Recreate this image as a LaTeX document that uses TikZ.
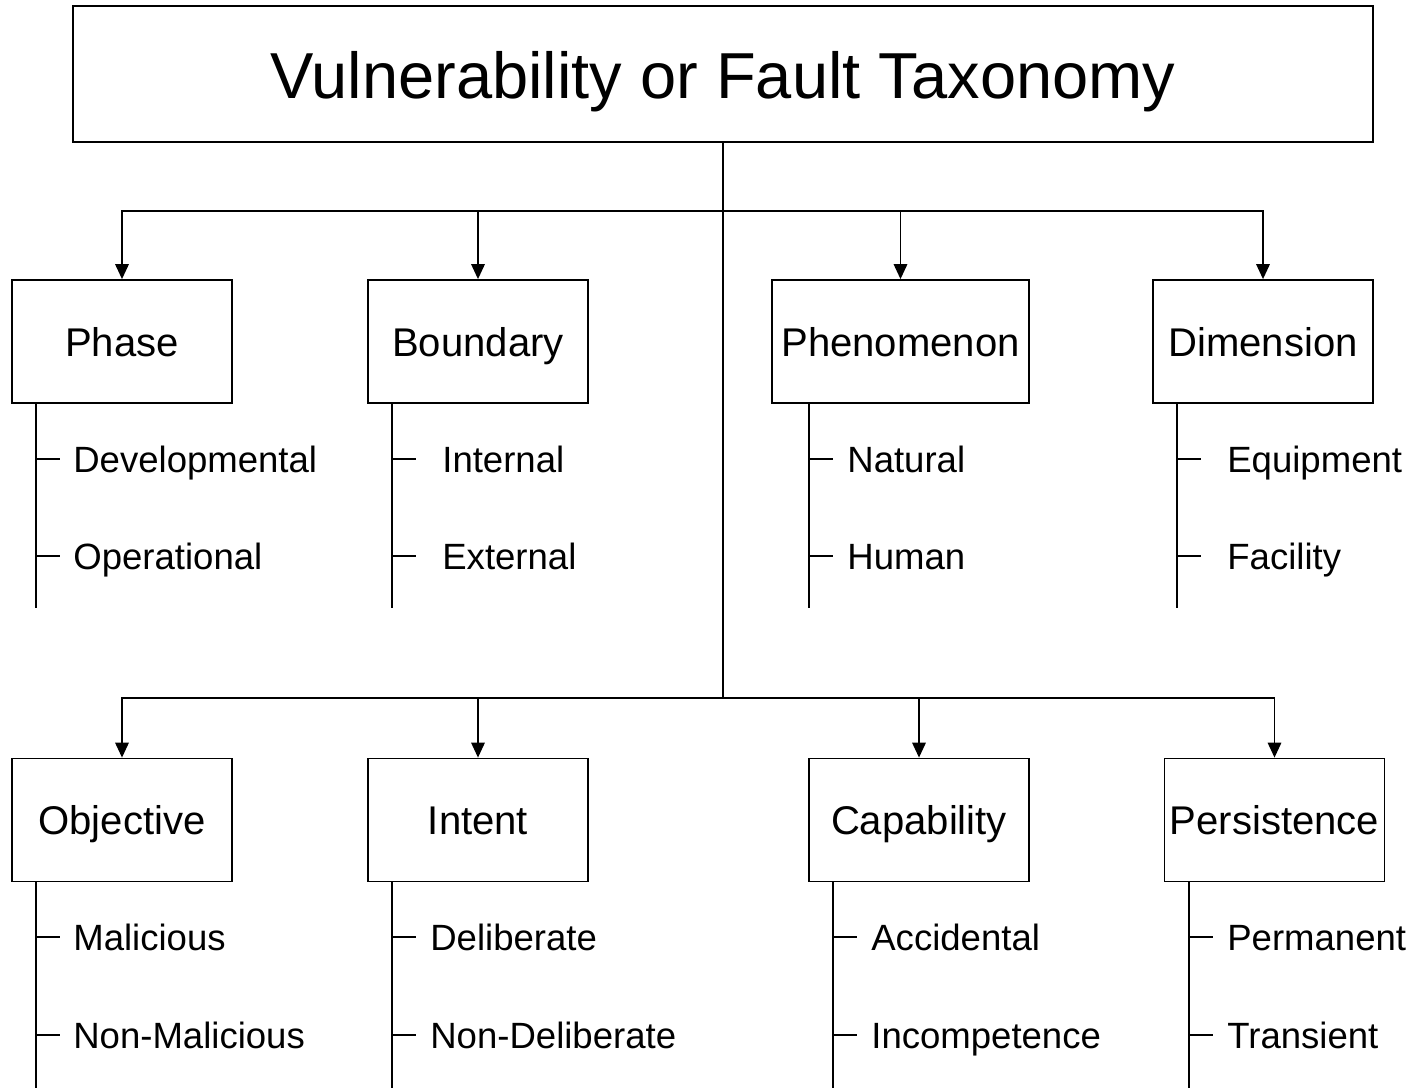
\documentclass[tikz,border=0pt]{standalone}
\usepackage{fontspec}
\setmainfont{Liberation Sans}
\usetikzlibrary{arrows.meta}

\tikzset{
  catbox/.style={draw, line width=1pt, minimum width=4.4cm, minimum height=2.46cm,
    inner sep=0pt, text height=17pt, text depth=0pt, font=\fontsize{22.8}{27}\selectfont},
  item/.style={anchor=base west, inner sep=0pt, font=\fontsize{20.8}{25}\selectfont},
  branch/.style={line width=1pt},
  feed/.style={line width=1.1pt, -{Triangle[length=8.5pt, width=7.6pt]}}
}

\begin{document}
\begin{tikzpicture}[x=0.02cm, y=-0.02cm]
  \useasboundingbox (0,0) rectangle (1412,1088);

  % Title box
  \node[draw, line width=1pt, minimum width=26cm, minimum height=2.72cm, inner sep=0pt,
        text height=27.5pt, text depth=0pt, font=\fontsize{37}{44}\selectfont]
        (title) at (723,74) {Vulnerability or Fault Taxonomy};

  % Bus junctions on the trunk
  \coordinate (topbus) at (723,211);
  \coordinate (botbus) at (723,698);
  \draw[feed, -] (title.south) -- (botbus);

  % Upper row of categories
  \node[catbox] (phase) at (122,341.5) {Phase};
  \node[catbox] (bound) at (478,341.5) {Boundary};
  \node[catbox, minimum width=5.14cm] (pheno) at (900.5,341.5) {Phenomenon};
  \node[catbox] (dimen) at (1263,341.5) {Dimension};

  % Lower row of categories
  \node[catbox] (object) at (122,820) {Objective};
  \node[catbox] (intent) at (478,820) {Intent};
  \node[catbox] (capab) at (919,820) {Capability};
  \node[catbox] (persist) at (1274.5,820) {Persistence};

  % Arrows from the buses
  \draw[feed] (topbus) -| (phase.north);
  \draw[feed] (topbus) -| (bound.north);
  \draw[feed] (topbus) -| (pheno.north);
  \draw[feed] (topbus) -| (dimen.north);
  \draw[feed] (botbus) -| (object.north);
  \draw[feed] (botbus) -| (intent.north);
  \draw[feed] (botbus) -| (capab.north);
  \draw[feed] (botbus) -| (persist.north);

  % Phase
  \coordinate (phaseend) at (36,608);
  \draw[branch] (phase.south -| phaseend) -- (phaseend);
  \draw[branch] (36,459) -- ++(24,0);
  \draw[branch] (36,556) -- ++(24,0);
  \node[item] (devel) at (73,472) {Developmental};
  \node[item] (oper) at (73,569) {Operational};

  % Boundary
  \coordinate (boundend) at (392,608);
  \draw[branch] (bound.south -| boundend) -- (boundend);
  \draw[branch] (392,459) -- ++(24,0);
  \draw[branch] (392,556) -- ++(24,0);
  \node[item] (inter) at (442,472) {Internal};
  \node[item] (exter) at (442,569) {External};

  % Phenomenon
  \coordinate (phenoend) at (809,608);
  \draw[branch] (pheno.south -| phenoend) -- (phenoend);
  \draw[branch] (809,459) -- ++(24,0);
  \draw[branch] (809,556) -- ++(24,0);
  \node[item] (natur) at (847,472) {Natural};
  \node[item] (human) at (847,569) {Human};

  % Dimension
  \coordinate (dimenend) at (1177,608);
  \draw[branch] (dimen.south -| dimenend) -- (dimenend);
  \draw[branch] (1177,459) -- ++(24,0);
  \draw[branch] (1177,556) -- ++(24,0);
  \node[item] (equip) at (1227,472) {Equipment};
  \node[item] (facil) at (1227,569) {Facility};

  % Objective
  \coordinate (objectend) at (36,1088);
  \draw[branch] (object.south -| objectend) -- (objectend);
  \draw[branch] (36,937) -- ++(24,0);
  \draw[branch] (36,1035) -- ++(24,0);
  \node[item] (malic) at (73,950) {Malicious};
  \node[item] (nonmal) at (73,1048) {Non-Malicious};

  % Intent
  \coordinate (intentend) at (392,1088);
  \draw[branch] (intent.south -| intentend) -- (intentend);
  \draw[branch] (392,937) -- ++(24,0);
  \draw[branch] (392,1035) -- ++(24,0);
  \node[item] (delib) at (430,950) {Deliberate};
  \node[item] (nondel) at (430,1048) {Non-Deliberate};

  % Capability
  \coordinate (capabend) at (833,1088);
  \draw[branch] (capab.south -| capabend) -- (capabend);
  \draw[branch] (833,937) -- ++(24,0);
  \draw[branch] (833,1035) -- ++(24,0);
  \node[item] (accid) at (871,950) {Accidental};
  \node[item] (incomp) at (871,1048) {Incompetence};

  % Persistence
  \coordinate (persistend) at (1189,1088);
  \draw[branch] (persist.south -| persistend) -- (persistend);
  \draw[branch] (1189,937) -- ++(24,0);
  \draw[branch] (1189,1035) -- ++(24,0);
  \node[item] (perma) at (1227,950) {Permanent};
  \node[item] (trans) at (1227,1048) {Transient};
\end{tikzpicture}
\end{document}
